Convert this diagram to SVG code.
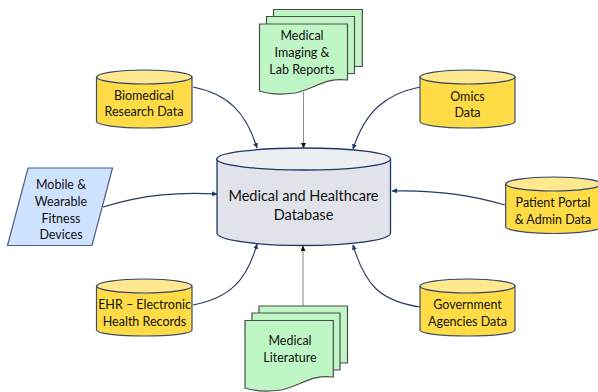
<svg xmlns="http://www.w3.org/2000/svg" width="598" height="392" viewBox="0 0 598 392">
<style>
text{font-family:Lato,"Liberation Sans",Arial,sans-serif;font-size:12.500px;fill:#111;text-anchor:middle}
.big{font-size:14.500px}
.cyl path.b{fill:#ffdc45;stroke:#3c4f6b;stroke-width:1.2}
.cyl ellipse{fill:#ffe88e;stroke:#2f4468;stroke-width:1.2}
.db path.b{fill:#e0e3e9;stroke:#1f3864;stroke-width:1.3}
.db ellipse{fill:#eceef2;stroke:#1f3864;stroke-width:1.3}
.doc path{fill:#c0f6c6;stroke:#4a4f4c;stroke-width:1.2}
.c{fill:none;stroke:#24395f;stroke-width:1.1}
</style>
<defs>
<marker id="a" markerWidth="6" markerHeight="6" refX="5" refY="2.500" orient="auto" markerUnits="userSpaceOnUse"><path d="M0 0L5.500 2.500L0 5z" fill="#1f3864"/></marker>
<marker id="k" markerWidth="6" markerHeight="6" refX="5" refY="2.500" orient="auto" markerUnits="userSpaceOnUse"><path d="M0 0L5.500 2.500L0 5z" fill="#111"/></marker>
</defs>
<g id="connectors">
<path class="c" marker-end="url(#a)" d="M193 87C228 94 246 112 257 148"/>
<path class="c" marker-end="url(#a)" d="M420 87C385 94 365 112 353 149"/>
<path class="c" marker-end="url(#a)" d="M103 207C145 194 180 192 217 194"/>
<path class="c" marker-end="url(#a)" d="M505 205C465 193 430 190 392 191"/>
<path class="c" marker-end="url(#a)" d="M193 305C230 298 247 280 257 244"/>
<path class="c" marker-end="url(#a)" d="M420 307C380 301 365 285 353 245"/>
<path d="M303.500 92V148" fill="none" stroke="#8c8c8c" stroke-width="1" marker-end="url(#k)"/>
<path d="M303 306V246" fill="none" stroke="#bdbdbd" stroke-width="1.800" marker-end="url(#k)"/>
</g>
<g id="database" class="db">
<path class="b" d="M217 159V233C217 240 256 245.500 303.700 245.500S390.500 240 390.500 233V159z"/>
<ellipse cx="303.700" cy="159" rx="86.800" ry="11"/>
<text class="big" x="303.500" y="201">Medical and Healthcare</text>
<text class="big" x="303.500" y="220">Database</text>
</g>
<g id="imaging" class="doc">
<path d="M273.500 9.500H362.300V66.500H273.500z"/>
<path d="M266.500 16.500H354.500V73.500H266.500z"/>
<path d="M259.500 24H347.500V80C325 77 315 89 295 93C280 95 268 94 259.500 91z"/>
<text x="302" y="40">Medical</text>
<text x="302" y="57">Imaging &amp;</text>
<text x="302" y="73.500">Lab Reports</text>
</g>
<g id="biomedical" class="cyl">
<path class="b" d="M96.500 77V121.500C96.500 125 118 128 144.500 128S192 125 192 121.500V77z"/>
<ellipse cx="144.300" cy="77" rx="47.700" ry="7"/>
<text x="144" y="99.500">Biomedical</text>
<text x="144" y="116">Research Data</text>
</g>
<g id="omics" class="cyl">
<path class="b" d="M420 77V121.500C420 125 441 128 467.500 128S515 125 515 121.500V77z"/>
<ellipse cx="467.500" cy="77" rx="47.500" ry="7"/>
<text x="467.500" y="100.500">Omics</text>
<text x="467.500" y="117">Data</text>
</g>
<g id="mobile">
<path d="M28 168H112.500L92 245.500H7.500z" fill="#cfe2ff" stroke="#4a5f82" stroke-width="1.200"/>
<text x="61" y="189">Mobile &amp;</text>
<text x="61" y="205.500">Wearable</text>
<text x="61" y="222.500">Fitness</text>
<text x="61" y="239">Devices</text>
</g>
<g id="patient" class="cyl">
<path class="b" d="M505.700 184V227C505.700 230 527 233.500 553.500 233.500S601 230 601 227V184z"/>
<ellipse cx="553.500" cy="184" rx="47.700" ry="7"/>
<text x="553" y="207">Patient Portal</text>
<text x="553" y="223.500">&amp; Admin Data</text>
</g>
<g id="ehr" class="cyl">
<path class="b" d="M96.500 286V330C96.500 333.500 118 336 144.500 336S192 333.500 192 330V286z"/>
<ellipse cx="144.300" cy="286" rx="47.700" ry="7"/>
<text x="144.500" y="309">EHR – Electronic</text>
<text x="144.500" y="326">Health Records</text>
</g>
<g id="government" class="cyl">
<path class="b" d="M420 286V330C420 333.500 441 336 467.500 336S515 333.500 515 330V286z"/>
<ellipse cx="467.500" cy="286" rx="47.500" ry="7"/>
<text x="467.500" y="309">Government</text>
<text x="467.500" y="326">Agencies Data</text>
</g>
<g id="literature" class="doc">
<path d="M259 306H347.500V363H259z"/>
<path d="M252 313H340V370H252z"/>
<path d="M245 320.500H333.300V377C311 374 301 386 281 390C266 392 254 391 245 388z"/>
<text x="290" y="345">Medical</text>
<text x="290" y="361.500">Literature</text>
</g>
</svg>
